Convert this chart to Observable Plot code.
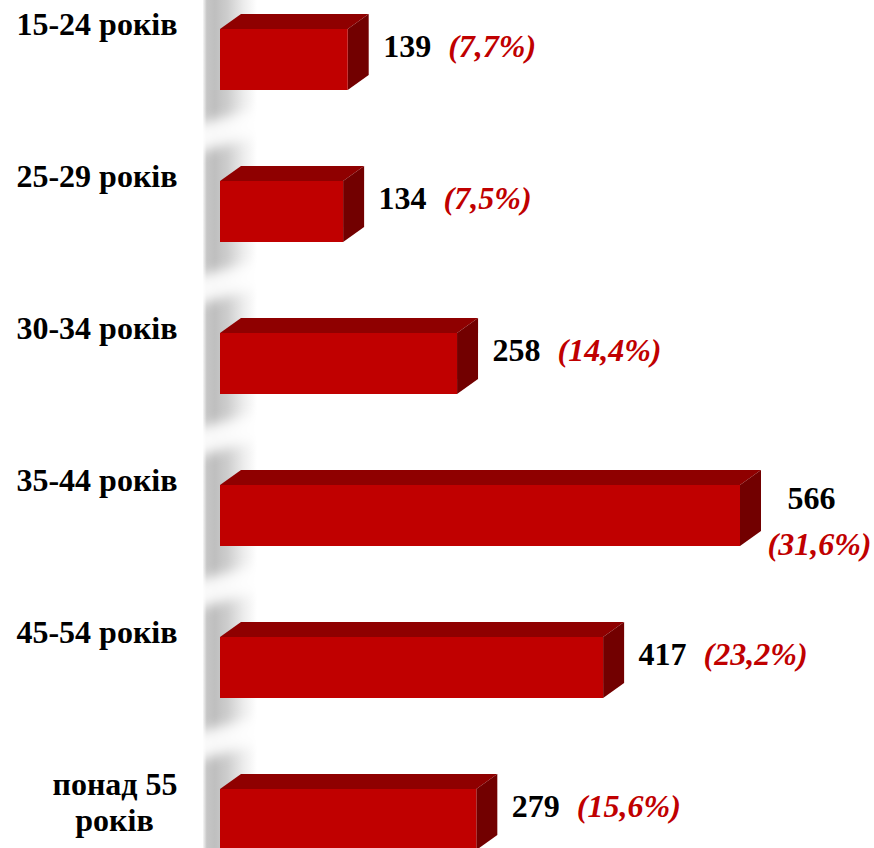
<!DOCTYPE html>
<html>
<head>
<meta charset="utf-8">
<script src="https://cdn.jsdelivr.net/npm/d3@7"></script>
<script src="https://cdn.jsdelivr.net/npm/@observablehq/plot@0.6"></script>
<style>
  html, body { margin: 0; padding: 0; background: #ffffff; }
  #chart svg { display: block; overflow: visible; }
</style>
</head>
<body>
<div id="chart"></div>
<script>
const categories = ["15-24 років", "25-29 років", "30-34 років", "35-44 років", "45-54 років", "понад 55\nроків"];
const values = [139, 134, 258, 566, 417, 279];
const percents = [7.7, 7.5, 14.4, 31.6, 23.2, 15.6];

const rows = categories.map((c, i) => ({
  category: c,
  line1: c.split("\n")[0],
  line2: c.split("\n")[1] || "",
  value: values[i],
  pct: "(" + percents[i].toFixed(1).replace(".", ",") + "%)"
}));
const maxValue = d3.max(values);
const wrapped = rows.filter(d => d.value === maxValue);
const normal = rows.filter(d => d.value !== maxValue);

const FONT = "'Liberation Serif', 'Times New Roman', serif";
const FS = 32;
const DX = 21, DY = 15; // 3D depth

function wallMark(index, scales, values, dims) {
  const x0 = scales.x(0), y = scales.y;
  const bw = y.bandwidth ? y.bandwidth() : 61;
  const L = x0 - 17, W = 54, R = L + W;
  const g = d3.create("svg:g");
  const defs = g.append("defs");
  const grad = defs.append("linearGradient").attr("id", "wallGrad")
    .attr("x1", "0").attr("x2", "1").attr("y1", "0").attr("y2", "0");
  [[0, "#f6f6f6"], [0.07, "#c6c6c6"], [0.22, "#bfbfbf"], [0.45, "#cdcdcd"], [0.75, "#ececec"], [1, "#ffffff"]]
    .forEach(([o, c]) => grad.append("stop").attr("offset", o).attr("stop-color", c));
  defs.append("clipPath").attr("id", "wallClip")
    .append("rect").attr("x", L).attr("y", 0).attr("width", W).attr("height", dims.height);
  defs.append("filter").attr("id", "wallBlur").attr("x", "-50%").attr("y", "-50%").attr("width", "200%").attr("height", "200%")
    .append("feGaussianBlur").attr("stdDeviation", 6);
  g.append("rect")
    .attr("x", L).attr("y", 0)
    .attr("width", W).attr("height", dims.height)
    .attr("fill", "url(#wallGrad)");
  const hl = g.append("g").attr("clip-path", "url(#wallClip)");
  for (let i = 0; i < categories.length - 1; i++) {
    const b = y(categories[i]) + bw;
    const tn = y(categories[i + 1]) - DY;
    const mid = (b + tn) / 2 + 2;
    const h = 14, tilt = 9;
    hl.append("polygon")
      .attr("points", [[L - 10, mid - h + tilt], [R + 10, mid - h - tilt], [R + 10, mid + h - tilt], [L - 10, mid + h + tilt]].map(p => p.join(",")).join(" "))
      .attr("fill", "#ffffff")
      .attr("fill-opacity", 0.9)
      .attr("filter", "url(#wallBlur)");
  }
  return g.node();
}

function facesMark(index, scales) {
  const x = scales.x, y = scales.y;
  const bw = y.bandwidth ? y.bandwidth() : 61;
  const g = d3.create("svg:g");
  rows.forEach(d => {
    const xa = x(0), xb = x(d.value), t = y(d.category), b = t + bw;
    g.append("polygon")
      .attr("points", [[xa, t], [xa + DX, t - DY], [xb + DX, t - DY], [xb, t]].map(p => p.join(",")).join(" "))
      .attr("fill", "#8f0000");
    g.append("polygon")
      .attr("points", [[xb, t], [xb + DX, t - DY], [xb + DX, b - DY], [xb, b]].map(p => p.join(",")).join(" "))
      .attr("fill", "#720000");
  });
  return g.node();
}

const plot = Plot.plot({
  width: 874,
  height: 848,
  style: { background: "#ffffff", fontFamily: FONT, overflow: "visible" },
  x: { domain: [0, maxValue], range: [220, 740], axis: null },
  y: { domain: categories, range: [27, 851], paddingInner: 0.6, paddingOuter: 0, axis: null },
  marks: [
    wallMark,
    facesMark,
    Plot.barX(rows, { x1: 0, x2: "value", y: "category", fill: "#c00000", inset: 0 }),
    Plot.text(rows, { x: 0, y: "category", text: "line1", textAnchor: "end", lineAnchor: "top", dx: -43, dy: -48,
      fontSize: FS, fontWeight: "bold", fontFamily: FONT, fill: "#000000" }),
    Plot.text(rows.filter(d => d.line2), { x: 0, y: "category", text: "line2", textAnchor: "middle", lineAnchor: "top", dx: -106, dy: -12,
      fontSize: FS, fontWeight: "bold", fontFamily: FONT, fill: "#000000" }),
    Plot.text(normal, { x: "value", y: "category", text: d => String(d.value), textAnchor: "start", dx: 35, dy: -13,
      fontSize: FS, fontWeight: "bold", fontFamily: FONT, fill: "#000000" }),
    Plot.text(normal, { x: "value", y: "category", text: "pct", textAnchor: "start", dx: 100, dy: -13,
      fontSize: FS, fontWeight: "bold", fontStyle: "italic", fontFamily: FONT, fill: "#c00000" }),
    Plot.text(wrapped, { x: "value", y: "category", text: d => String(d.value), textAnchor: "start", dx: 47, dy: -17,
      fontSize: FS, fontWeight: "bold", fontFamily: FONT, fill: "#000000" }),
    Plot.text(wrapped, { x: "value", y: "category", text: "pct", textAnchor: "start", dx: 27, dy: 29,
      fontSize: FS, fontWeight: "bold", fontStyle: "italic", fontFamily: FONT, fill: "#c00000" })
  ]
});
document.getElementById("chart").appendChild(plot);
</script>
</body>
</html>
